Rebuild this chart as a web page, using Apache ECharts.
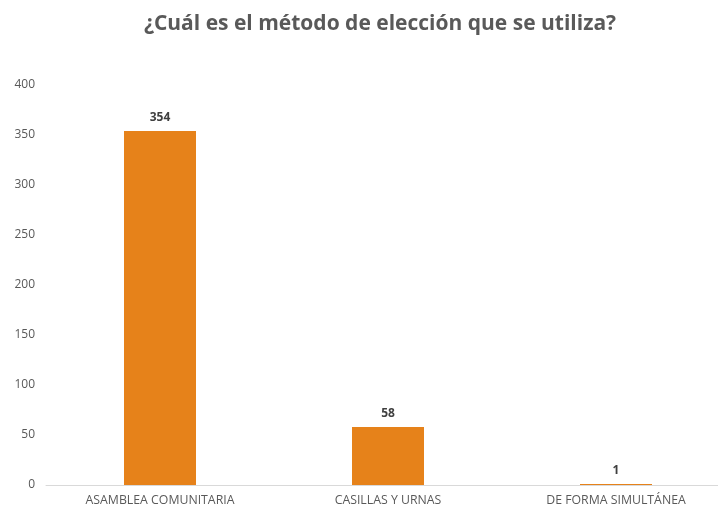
<!DOCTYPE html>
<html><head><meta charset="utf-8">
<script src="https://cdn.jsdelivr.net/npm/echarts@6/dist/echarts.min.js"></script>
<style>html,body{margin:0;padding:0;background:#fff;overflow:hidden;width:718px;height:508px}#c{width:730px;height:508px}</style>
</head><body><div id="c"></div>
<script>
const categories = ["ASAMBLEA COMUNITARIA", "CASILLAS Y URNAS", "DE FORMA SIMULTÁNEA"];
const values = [354, 58, 1];
const yTicks = [0, 50, 100, 150, 200, 250, 300, 350, 400];
const titleText = "¿Cuál es el método de elección que se utiliza?";

const chart = echarts.init(document.getElementById('c'), null, {renderer: 'canvas'});
chart.setOption({
  animation: false,
  title: {
    text: titleText,
    left: 375, top: 9, textAlign: 'center',
    textStyle: {fontFamily: 'Open Sans', fontWeight: 'bold', fontSize: 21, color: '#595959'}
  },
  grid: {left: 46, top: 85, right: 0, bottom: 23, containLabel: false},
  xAxis: {
    type: 'category', data: categories,
    axisLine: {lineStyle: {color: '#d9d9d9', width: 1}},
    axisTick: {show: false},
    axisLabel: {color: '#595959', fontFamily: 'Open Sans', fontSize: 12.3, margin: 9}
  },
  yAxis: {
    type: 'value', min: yTicks[0], max: yTicks[yTicks.length - 1], interval: 50,
    splitLine: {show: false},
    axisLine: {show: false}, axisTick: {show: false},
    axisLabel: {color: '#595959', fontFamily: 'Open Sans', fontSize: 12, margin: 11}
  },
  series: [{
    type: 'bar', data: values, barWidth: 72,
    itemStyle: {color: '#E6821A'},
    label: {show: true, position: 'top', distance: 7, color: '#404040', fontFamily: 'Open Sans', fontWeight: 'bold', fontSize: 12}
  }]
});
</script></body></html>
